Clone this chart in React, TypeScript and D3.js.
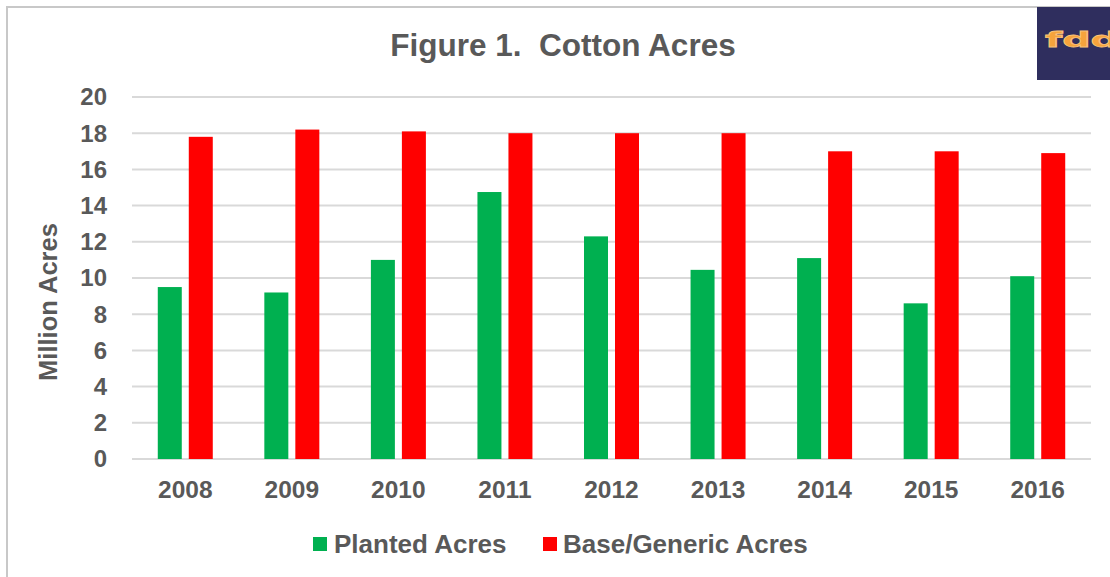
import React from "react";
import * as d3 from "d3";

const years = ["2008", "2009", "2010", "2011", "2012", "2013", "2014", "2015", "2016"];
const planted = [9.5, 9.2, 11.0, 14.75, 12.3, 10.45, 11.1, 8.6, 10.1];
const baseGeneric = [17.8, 18.2, 18.1, 18.0, 18.0, 18.0, 17.0, 17.0, 16.9];
const seriesNames = ["Planted Acres", "Base/Generic Acres"];
const seriesColors = ["#00b050", "#ff0000"];
const yTicks = [0, 2, 4, 6, 8, 10, 12, 14, 16, 18, 20];

const W = 1110;
const H = 577;
const plot = { left: 132, right: 1091, top: 97, bottom: 459 };
const FONT = "'Liberation Sans', Arial, sans-serif";
const TEXT = "#595959";

export default function App() {
    const x0 = d3.scaleBand<string>().domain(years).range([plot.left, plot.right]).padding(0);
    const groupW = 55;
    const x1 = d3.scaleBand<string>().domain(seriesNames).range([0, groupW]).paddingInner(0.226);
    const y = d3.scaleLinear().domain([0, 20]).range([plot.bottom, plot.top]);
    const series = [planted, baseGeneric];

    return (
        <svg
            width={W}
            height={H}
            style={{ position: "absolute", left: 0, top: 0, display: "block", background: "#fff" }}
            fontFamily={FONT}
        >
            {/* chart frame */}
            <rect x={7} y={7} width={W + 20} height={H + 20} fill="#fff" stroke="#c8c8c8" strokeWidth={2} />

            {/* logo */}
            <rect x={1037} y={7} width={80} height={73} fill="#2f2e5e" />
            <text
                x={1045}
                y={47}
                fontFamily="'DejaVu Sans', sans-serif"
                fontWeight="bold"
                fontSize={22}
                textLength={74}
                lengthAdjust="spacingAndGlyphs"
                fill="#f6a33c"
                stroke="#f9c27a"
                strokeWidth={0.8}
            >
                fdd
            </text>

            <text
                x={563}
                y={56}
                textAnchor="middle"
                fontSize={31.5}
                fontWeight="bold"
                fill={TEXT}
                style={{ whiteSpace: "pre" }}
            >
                {"Figure 1.  Cotton Acres"}
            </text>

            {/* gridlines + y ticks */}
            {yTicks.map((t) => (
                <g key={t}>
                    <line x1={plot.left} x2={plot.right} y1={y(t)} y2={y(t)} stroke="#d9d9d9" strokeWidth={2} />
                    <text x={107} y={y(t)} dy="0.35em" textAnchor="end" fontSize={24} fontWeight="bold" fill={TEXT}>
                        {t}
                    </text>
                </g>
            ))}

            {/* bars */}
            {years.map((yr, i) => {
                const gx = (x0(yr) as number) + (x0.bandwidth() - groupW) / 2;
                return (
                    <g key={yr} transform={`translate(${gx},0)`}>
                        {series.map((vals, s) => (
                            <rect
                                key={s}
                                x={x1(seriesNames[s])}
                                y={y(vals[i])}
                                width={x1.bandwidth()}
                                height={y(0) - y(vals[i])}
                                fill={seriesColors[s]}
                            />
                        ))}
                        <text
                            x={groupW / 2}
                            y={498}
                            textAnchor="middle"
                            fontSize={24.5}
                            fontWeight="bold"
                            fill={TEXT}
                        >
                            {yr}
                        </text>
                    </g>
                );
            })}

            <text
                transform={`translate(57,302) rotate(-90)`}
                textAnchor="middle"
                fontSize={25.5}
                fontWeight="bold"
                fill={TEXT}
            >
                Million Acres
            </text>

            {/* legend */}
            <rect x={313} y={537} width={14} height={14} fill={seriesColors[0]} />
            <text x={334} y={553} fontSize={26} fontWeight="bold" fill={TEXT}>
                {seriesNames[0]}
            </text>
            <rect x={543} y={537} width={14} height={14} fill={seriesColors[1]} />
            <text x={563} y={553} fontSize={26} fontWeight="bold" fill={TEXT}>
                {seriesNames[1]}
            </text>
        </svg>
    );
}
